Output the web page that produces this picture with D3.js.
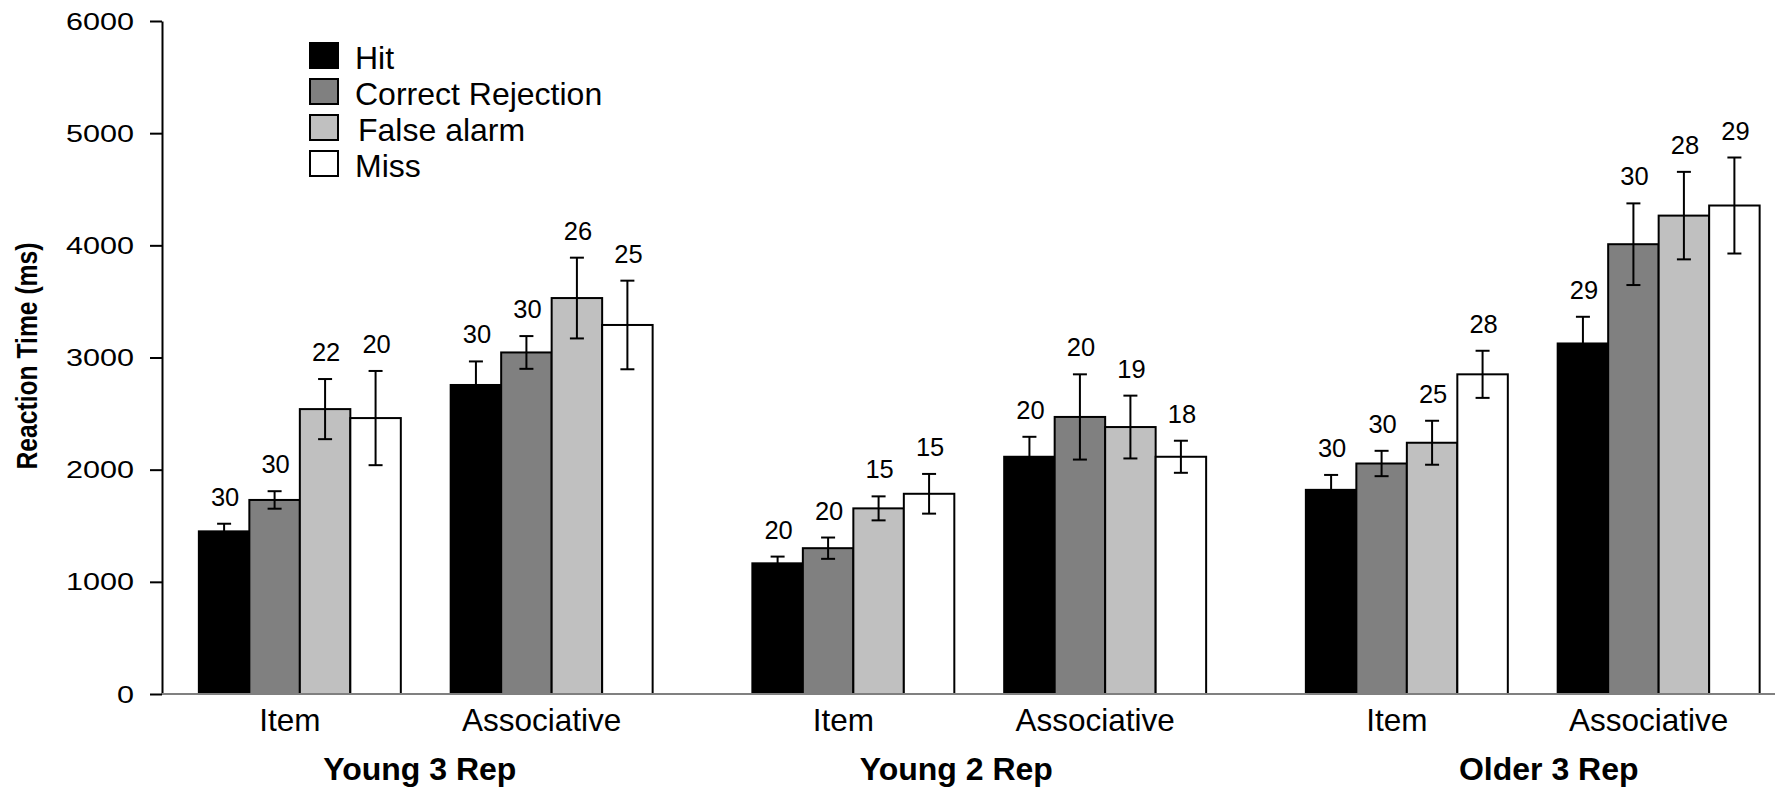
<!DOCTYPE html>
<html>
<head>
<meta charset="utf-8">
<script src="https://cdn.jsdelivr.net/npm/d3@7"></script>
<style>
  html, body { margin: 0; padding: 0; background: #ffffff; }
  svg { display: block; font-family: "Liberation Sans", Arial, Helvetica, sans-serif; }
</style>
</head>
<body>
<svg id="chart" width="1775" height="790"></svg>
<script>
// Groups, memory conditions and response types
const groups = ["Young 3 Rep", "Young 2 Rep", "Older 3 Rep"];
const memoryTypes = ["Item", "Associative"];
const responses = ["Hit", "Correct Rejection", "False alarm", "Miss"];
const responseFills = ["#000000", "#808080", "#c0c0c0", "#ffffff"];
const yTicks = [0, 1000, 2000, 3000, 4000, 5000, 6000];

// Mean reaction time (ms): [group][memory type][response]
const meanRT = [
  [[1450, 1730, 2540, 2460], [2755, 3045, 3530, 3290]],
  [[1165, 1300, 1655, 1785], [2115, 2470, 2380, 2115]],
  [[1820, 2055, 2240, 2850], [3125, 4010, 4265, 4355]]
];
// Standard error (ms)
const errorRT = [
  [[68, 78, 268, 420], [210, 146, 360, 395]],
  [[60, 95, 107, 177], [178, 380, 280, 143]],
  [[133, 113, 196, 210], [238, 364, 390, 428]]
];
// Number of participants contributing to each mean
const nCounts = [
  [[30, 30, 22, 20], [30, 30, 26, 25]],
  [[20, 20, 15, 15], [20, 20, 19, 18]],
  [[30, 30, 25, 28], [29, 30, 28, 29]]
];

const svg = d3.select("#chart");
const W = 1775;
const axisX = 162;
// horizontal nudge of each group title relative to its band centre
const titleNudge = [-6, -23, 16];

// Scales
const y = d3.scaleLinear().domain([0, 6000]).range([694, 21]);
const x0 = d3.scaleBand().domain(groups).range([149, 149 + 3 * 553.5]).padding(0);
const x1 = d3.scaleBand().domain(memoryTypes).range([0, x0.bandwidth()])
  .paddingInner(0.198).paddingOuter(0.198);
const x2 = d3.scaleBand().domain(responses).range([0, x1.bandwidth()]).padding(0);
const fill = d3.scaleOrdinal().domain(responses).range(responseFills);

// Flatten into bar records
const bars = [];
groups.forEach((g, gi) => {
  memoryTypes.forEach((m, mi) => {
    responses.forEach((r, ri) => {
      bars.push({
        group: g, memory: m, response: r,
        mean: meanRT[gi][mi][ri],
        se: errorRT[gi][mi][ri],
        n: nCounts[gi][mi][ri]
      });
    });
  });
});
const barX = d => x0(d.group) + x1(d.memory) + x2(d.response);
const barCx = d => barX(d) + x2.bandwidth() / 2;

// Y axis
const yAxis = svg.append("g")
  .attr("transform", `translate(${axisX},0)`)
  .call(d3.axisLeft(y).tickValues(yTicks).tickFormat(d3.format("d"))
    .tickSize(12).tickSizeOuter(0).tickPadding(16));
yAxis.select(".domain").attr("stroke", "#000").attr("stroke-width", 2);
yAxis.selectAll(".tick line").attr("stroke", "#000").attr("stroke-width", 2);
const tickStretch = 1.33;
yAxis.selectAll(".tick text")
  .attr("fill", "#000")
  .style("font-size", "23px")
  .attr("x", -28 / tickStretch)
  .attr("dy", "0.35em")
  .attr("transform", `scale(${tickStretch},1)`);

// Y axis title
svg.append("text")
  .attr("transform", "translate(37,356) rotate(-90) scale(0.85,1)")
  .attr("text-anchor", "middle")
  .style("font-size", "29px")
  .style("font-weight", "bold")
  .text("Reaction Time (ms)");

// Bars
svg.append("g").selectAll("rect")
  .data(bars)
  .join("rect")
  .attr("x", barX)
  .attr("y", d => y(d.mean))
  .attr("width", x2.bandwidth())
  .attr("height", d => y(0) - y(d.mean))
  .attr("fill", d => fill(d.response))
  .attr("stroke", "#000")
  .attr("stroke-width", 2);

// Baseline
svg.append("line")
  .attr("x1", axisX).attr("x2", W)
  .attr("y1", y(0)).attr("y2", y(0))
  .attr("stroke", "#808080")
  .attr("stroke-width", 2);

// Error bars
const capHalf = 7;
const eb = svg.append("g").attr("stroke", "#000").attr("stroke-width", 2);
bars.forEach(d => {
  const cx = barCx(d);
  const top = y(d.mean + d.se), bot = y(d.mean - d.se);
  eb.append("line").attr("x1", cx).attr("x2", cx).attr("y1", top).attr("y2", bot);
  eb.append("line").attr("x1", cx - capHalf).attr("x2", cx + capHalf).attr("y1", top).attr("y2", top);
  eb.append("line").attr("x1", cx - capHalf).attr("x2", cx + capHalf).attr("y1", bot).attr("y2", bot);
});

// Participant counts above error bars
svg.append("g").selectAll("text")
  .data(bars)
  .join("text")
  .attr("x", d => barCx(d) + 1)
  .attr("y", d => y(d.mean + d.se) - 18)
  .attr("text-anchor", "middle")
  .style("font-size", "25.5px")
  .text(d => d.n);

// Memory type labels
groups.forEach(g => {
  memoryTypes.forEach(m => {
    svg.append("text")
      .attr("x", x0(g) + x1(m) + x1.bandwidth() / 2 - 10)
      .attr("y", 731)
      .attr("text-anchor", "middle")
      .style("font-size", "31.5px")
      .text(m);
  });
});

// Group titles
svg.append("g").selectAll("text")
  .data(groups)
  .join("text")
  .attr("x", (g, i) => x0(g) + x0.bandwidth() / 2 + titleNudge[i])
  .attr("y", 780)
  .attr("text-anchor", "middle")
  .style("font-size", "32px")
  .style("font-weight", "bold")
  .text(g => g);

// Legend
const legend = svg.append("g").attr("transform", "translate(309,42)");
const legendItems = legend.selectAll("g")
  .data(responses)
  .join("g")
  .attr("transform", (d, i) => `translate(0,${i * 36})`);
legendItems.append("rect")
  .attr("x", 1).attr("y", 1)
  .attr("width", 28).attr("height", 25)
  .attr("fill", d => fill(d))
  .attr("stroke", "#000")
  .attr("stroke-width", 2);
legendItems.append("text")
  .attr("x", (d, i) => i === 2 ? 49 : 46)
  .attr("y", 27)
  .style("font-size", "32px")
  .text(d => d);
</script>
</body>
</html>
